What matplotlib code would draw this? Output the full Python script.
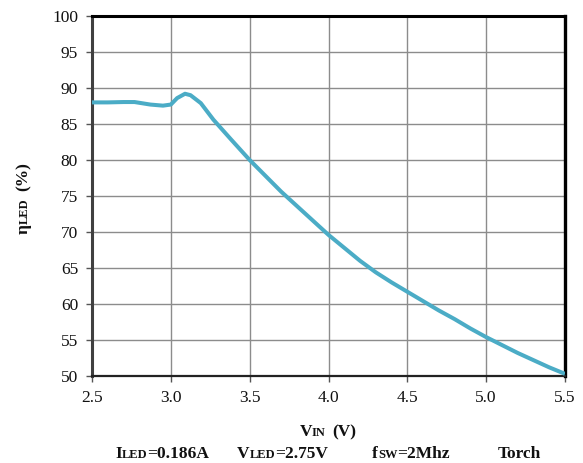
import matplotlib
matplotlib.use('Agg')
import matplotlib.pyplot as plt
from matplotlib.transforms import IdentityTransform

FONT = 'Liberation Serif'
LINE_COLOR = '#4bacc6'

# efficiency curve
vin = [2.5, 2.6, 2.7, 2.77, 2.87, 2.95, 3.0, 3.04, 3.09, 3.125, 3.19, 3.27,
       3.38, 3.5, 3.6, 3.7, 3.8, 3.9, 4.0, 4.1, 4.2, 4.3, 4.4, 4.5, 4.6,
       4.7, 4.8, 4.9, 5.0, 5.1, 5.2, 5.3, 5.4, 5.5]
eta = [88.0, 88.0, 88.05, 88.05, 87.7, 87.55, 87.7, 88.6, 89.2, 89.0, 87.9, 85.6,
       82.9, 80.0, 77.8, 75.6, 73.6, 71.6, 69.6, 67.8, 66.0, 64.4, 63.0, 61.7, 60.4,
       59.1, 57.9, 56.6, 55.4, 54.3, 53.2, 52.2, 51.2, 50.3]

xticks = [2.5, 3.0, 3.5, 4.0, 4.5, 5.0, 5.5]
yticks = list(range(50, 101, 5))

W, H = 583, 463
fig = plt.figure(figsize=(W / 100, H / 100), dpi=100)
ax = fig.add_axes([92 / W, 1 - 376 / H, (565 - 92) / W, (376 - 16) / H])

ax.plot(vin, eta, color=LINE_COLOR, lw=2.9, solid_capstyle='butt',
        solid_joinstyle='round', zorder=3)

ax.set_xlim(2.5, 5.5)
ax.set_ylim(50, 100)
ax.set_xticks(xticks)
ax.set_xticklabels(['%.1f' % v for v in xticks])
ax.set_yticks(yticks)
ax.grid(True, color='#8c8c8c', lw=1.0)
ax.set_axisbelow(True)
ax.tick_params(direction='out', length=4, width=1, color='#555555', pad=6,
               labelsize=12.5, labelcolor='#111111')
for lbl in ax.get_xticklabels() + ax.get_yticklabels():
    lbl.set_family(FONT)

ax.spines['left'].set_color('#404040')
ax.spines['left'].set_linewidth(2.2)
ax.spines['top'].set_color('black')
ax.spines['top'].set_linewidth(2.2)
ax.spines['right'].set_color('black')
ax.spines['right'].set_linewidth(2.4)
ax.spines['bottom'].set_color('#222222')
ax.spines['bottom'].set_linewidth(1.6)

renderer = fig.canvas.get_renderer()


def rich_text(x, y, parts, rotation=0, align='left'):
    # parts: (text, size, gap before in px); x, y are pixels from top-left
    widths = []
    for s, size, gap in parts:
        t = fig.text(0, 0, s, fontsize=size, fontweight='bold', family=FONT)
        widths.append(t.get_window_extent(renderer).width + gap)
        t.remove()
    total = sum(widths)
    pos = -total / 2 if align == 'center' else 0
    for (s, size, gap), w in zip(parts, widths):
        pos += gap
        if rotation == 0:
            px, py = x + pos, H - y
        else:
            px, py = x, H - y + pos
        fig.text(px, py, s, fontsize=size, fontweight='bold', family=FONT,
                 color='#111111', ha='left', va='baseline', rotation=rotation,
                 rotation_mode='anchor', transform=IdentityTransform())
        pos += w - gap


rich_text(328, 436, [('V', 12.5, 0), ('IN', 9, 0), ('(V)', 12.5, 7)], align='center')
rich_text(28, 198, [('\u03b7', 12.5, 0), ('LED', 9, 0), ('(%)', 12.5, 7)],
          rotation=90, align='center')

rich_text(115, 458, [('I', 12.5, 0), ('LED', 9, 0), ('=0.186A', 12.5, 0)])
rich_text(237, 458, [('V', 12.5, 0), ('LED', 9, 0), ('=2.75V', 12.5, 0)])
rich_text(372, 458, [('f', 12.5, 0), ('SW', 9, 0), ('=2Mhz', 12.5, 0)])
rich_text(498, 458, [('Torch', 12.5, 0)])

fig.savefig('out.png', dpi=100)
